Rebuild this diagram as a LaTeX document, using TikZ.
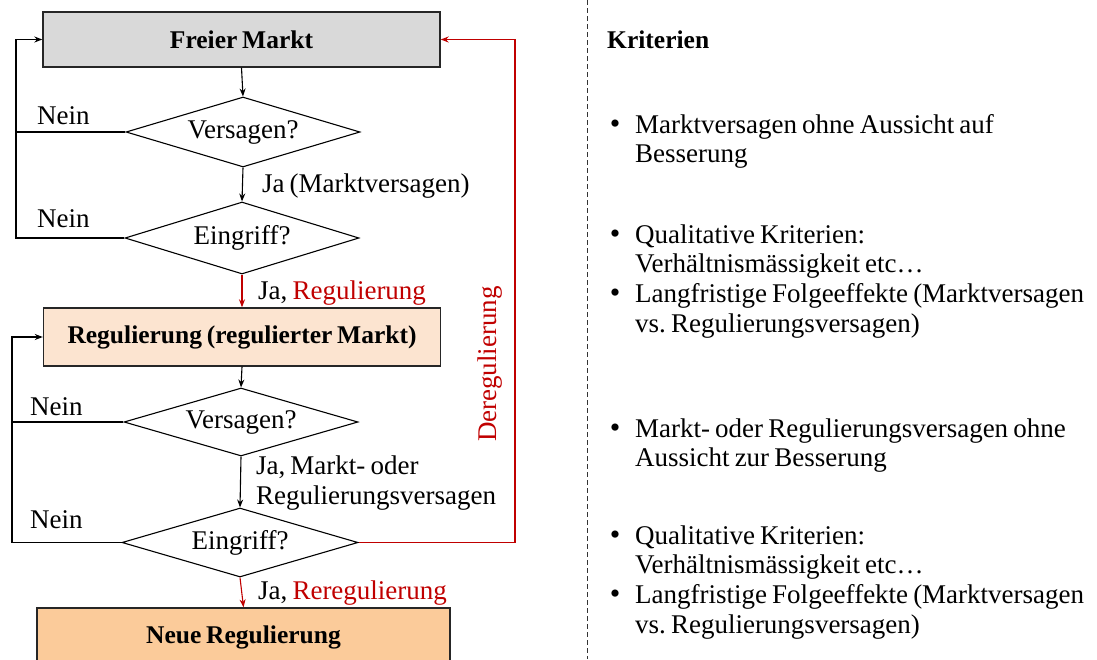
\documentclass[tikz,border=0pt]{standalone}
\usepackage{fontspec}
\setmainfont{Liberation Serif}[WordSpace=0.75]
\usetikzlibrary{shapes.geometric,arrows.meta}
\definecolor{redline}{HTML}{C00000}
\definecolor{boxgray}{HTML}{D9D9D9}
\definecolor{boxpeach}{HTML}{FCE4D0}
\definecolor{boxorange}{HTML}{FBCB9A}
\newcommand{\txtsize}{\fontsize{27}{29.5}\selectfont}
\newcommand{\headsize}{\fontsize{25.5}{29}\selectfont\bfseries}
\frenchspacing
\begin{document}
\begin{tikzpicture}[x=1pt,y=-1pt,
  font=\txtsize,
  proc/.style={draw=black!85, line width=1.4pt, minimum width=397pt, minimum height=55pt,
    inner sep=0pt, font=\headsize},
  decide/.style={diamond, draw, line width=1.1pt, minimum width=234pt, minimum height=70pt,
    inner sep=0pt, aspect=3.3},
  flow/.style={line width=1.1pt, -{Stealth[length=8pt,width=6pt]}},
  lbl/.style={anchor=base west, inner sep=0pt},
  item/.style={anchor=base west, inner sep=0pt, align=left},
  dot/.style={anchor=base, inner sep=0pt, font=\fontsize{30}{29}\selectfont}
]
\useasboundingbox (0,0) rectangle (1097,659);

% process boxes
\node[proc, fill=boxgray] (b1) at (241.5,39.5) {Freier Markt};
\node[proc, fill=boxpeach, minimum height=58pt] (b2) at (242,337) {Regulierung (regulierter Markt)};
\node[proc, fill=boxorange, minimum width=413pt, minimum height=64pt] (b3) at (243.5,640) {};
\node[inner sep=0pt, font=\headsize] (b3t) at (243.5,637) {Neue Regulierung};

% decisions
\node[decide] (d1) at (243,132) {Versagen?};
\node[decide, minimum height=72pt] (d2) at (242,238) {Eingriff?};
\node[decide, minimum height=68pt] (d3) at (241,422) {Versagen?};
\node[decide, minimum height=69pt, minimum width=236pt] (d4) at (240,542.5) {Eingriff?};

% return rails
\coordinate (lx1) at (16,0);
\coordinate (lx2) at (12,0);
\coordinate (rx) at (515,0);

% main flow
\draw[flow] (b1.south) -- (d1.north);
\draw[flow] (d1.south) -- (d2.north);
\draw[flow, redline] (d2.south) -- (b2.north);
\draw[flow] (b2.south) -- (d3.north);
\draw[flow] (d3.south) -- (d4.north);
\draw[flow, redline] (d4.south) -- (b3.north);

% "Nein" loops
\draw[line width=1.1pt] (d1.west) -- (d1.west -| lx1);
\draw[flow] (d2.west) -- (d2.west -| lx1) |- (b1.west);
\draw[line width=1.1pt] (d3.west) -- (d3.west -| lx2);
\draw[flow] (d4.west) -- (d4.west -| lx2) |- (b2.west);

% deregulation path
\draw[flow, redline] (d4.east) -- (d4.east -| rx) |- (b1.east);
\node[rotate=90, text=redline, inner sep=0pt] (dereg) at (490,364) {Deregulierung};

% edge labels
\node[lbl] (n1) at (37,124) {Nein};
\node[lbl] (n2) at (37,227) {Nein};
\node[lbl] (n3) at (30,415) {Nein};
\node[lbl] (n4) at (30,528) {Nein};
\node[lbl] (j1) at (262,192) {Ja (Marktversagen)};
\node[lbl] (j2) at (258,299) {Ja, \textcolor{redline}{Regulierung}};
\node[lbl, align=left] (j3) at (256,504) {Ja, Markt- oder\\Regulierungsversagen};
\node[lbl] (j4) at (258,599) {Ja, \textcolor{redline}{Reregulierung}};

% separator
\coordinate (sepTop) at (587,0);
\coordinate (sepBot) at (587,659);
\draw[black!80, line width=0.9pt, dash pattern=on 5pt off 3pt] (sepTop) -- (sepBot);

% criteria (first-line baseline / item name / text)
\node[lbl, font=\headsize] (krit) at (607,48) {Kriterien};
\foreach \y/\name/\txt in {
  133/k1/{Marktversagen ohne Aussicht auf\\Besserung},
  243/k2/{Qualitative Kriterien:\\Verhältnismässigkeit etc…},
  302.5/k3/{Langfristige Folgeeffekte (Marktversagen\\vs. Regulierungsversagen)},
  437/k4/{Markt- oder Regulierungsversagen ohne\\Aussicht zur Besserung},
  544/k5/{Qualitative Kriterien:\\Verhältnismässigkeit etc…},
  603.5/k6/{Langfristige Folgeeffekte (Marktversagen\\vs. Regulierungsversagen)}}{
  \node[dot] (\name b) at (615,\y) {•};
  \node[item] (\name) at (635,\y+29.5) {\txt};
}
\end{tikzpicture}
\end{document}
